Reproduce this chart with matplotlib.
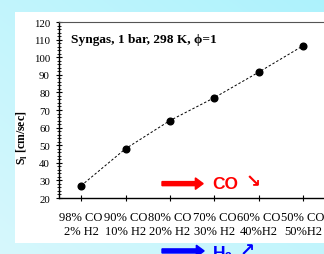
import numpy as np
import matplotlib.pyplot as plt
from matplotlib.patches import Rectangle, FancyArrow
from matplotlib.ticker import MultipleLocator

# mixture composition and laminar flame speed
mixtures = ['98% CO\n2% H2', '90% CO\n10% H2', '80% CO\n20% H2',
            '70% CO\n30% H2', '60% CO\n40%H2', '50% CO\n50%H2']
s_l = [27, 48, 64, 77, 91.5, 106.5]

serif = ['Liberation Serif', 'DejaVu Serif']

fig = plt.figure(figsize=(3.24, 2.55), dpi=100)

# cyan gradient background (light at bottom-left, stronger at top-right)
bg = fig.add_axes([0, 0, 1, 1], zorder=-10)
gx, gy = np.meshgrid(np.linspace(0, 1, 200), np.linspace(1, 0, 160))
t = (gx + gy) / 2
c0 = np.array([0.84, 0.97, 0.99])
c1 = np.array([0.68, 0.95, 0.99])
img = c0 + (c1 - c0) * t[..., None]
bg.imshow(img, aspect='auto', extent=[0, 1, 0, 1])
bg.add_patch(Rectangle((0.046, 0.043), 1.0, 0.906, color='white', lw=0))
bg.set_xlim(0, 1)
bg.set_ylim(0, 1)
bg.axis('off')

ax = fig.add_axes([0.182, 0.2196, 0.822, 0.6902])
ax.set_facecolor('none')
x = np.arange(len(mixtures))
ax.plot(x, s_l, ls=(0, (2.5, 2)), color='black', lw=0.7,
        marker='o', ms=4.8, mfc='black', mec='black')

ax.set_xlim(-0.5, 5.5)
ax.set_ylim(20, 120)
ax.set_xticks(x)
ax.set_xticklabels(mixtures, family=serif, fontsize=9, linespacing=1.15)
ax.yaxis.set_major_locator(MultipleLocator(10))
ax.yaxis.set_minor_locator(MultipleLocator(2))
for lab in ax.get_yticklabels():
    lab.set_family(serif)
    lab.set_fontsize(7.8)
ax.tick_params(axis='y', which='major', direction='inout', length=5, width=0.8, pad=4)
ax.tick_params(axis='y', which='minor', direction='inout', length=2.5, width=0.6)
ax.tick_params(axis='x', which='major', direction='inout', length=5, width=0.8, pad=7)
ax.spines['right'].set_visible(False)
ax.spines['top'].set_color('#555555')
ax.spines['left'].set_linewidth(1.0)
ax.spines['bottom'].set_linewidth(1.0)

ax.set_ylabel('S$_\\mathregular{l}$ [cm/sec]', family=serif, fontsize=8.5,
              fontweight='bold')
ax.yaxis.set_label_coords(-0.11, 0.35)
ax.text(0.045, 0.935, 'Syngas, 1 bar, 298 K, ϕ=1', transform=ax.transAxes,
        family=serif, fontsize=9.6, fontweight='bold', va='top')

# composition trend arrows
fig.patches.append(FancyArrow(0.50, 0.276, 0.127, 0, width=0.016,
                              head_width=0.045, head_length=0.024,
                              length_includes_head=True, color='red',
                              transform=fig.transFigure, figure=fig))
fig.text(0.655, 0.278, 'CO', color='red', fontsize=12.5, fontweight='bold',
         family=['Liberation Sans', 'DejaVu Sans'], va='center')
fig.text(0.758, 0.285, '↘', color='red', fontsize=13, fontweight='bold',
         va='center')
fig.patches.append(FancyArrow(0.50, 0.012, 0.13, 0, width=0.016,
                              head_width=0.045, head_length=0.024,
                              length_includes_head=True, color='blue',
                              transform=fig.transFigure, figure=fig))
fig.text(0.655, -0.03, 'H$_\\mathregular{2}$', color='blue', fontsize=12.5,
         fontweight='bold', family=['Liberation Sans', 'DejaVu Sans'], va='bottom')
fig.text(0.738, -0.02, '↗', color='blue', fontsize=13, fontweight='bold',
         va='bottom')

fig.savefig('out.png', dpi=100)
